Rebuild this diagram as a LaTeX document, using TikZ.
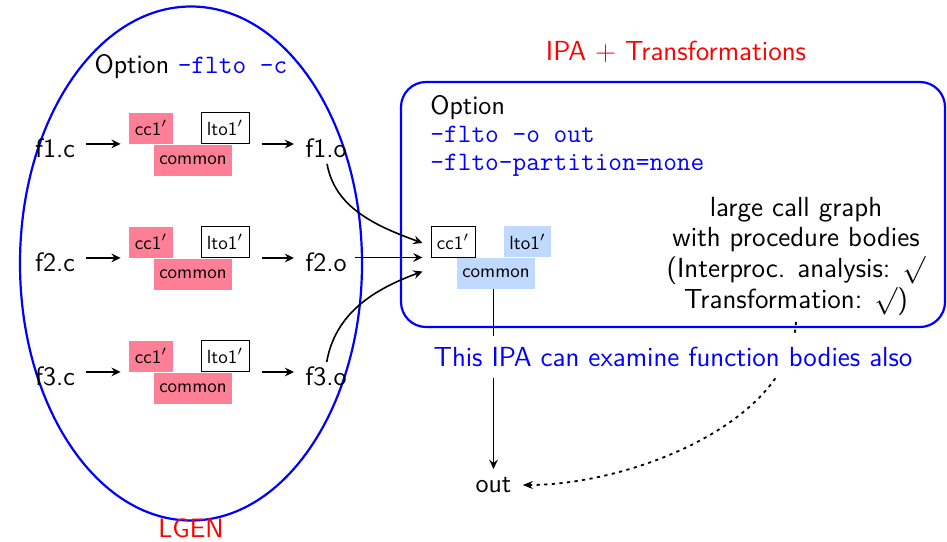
\RequirePackage{fix-cm}
\documentclass[tikz,border=0pt]{standalone}
\usetikzlibrary{arrows.meta,shapes.geometric,calc}
\definecolor{tagpink}{RGB}{255,128,150}
\definecolor{tagblue}{RGB}{191,217,255}
\begin{document}
\begin{tikzpicture}[x=0.5pt,y=-0.5pt,
  every node/.style={font=\fontsize{13.3}{15.5}\selectfont\sffamily},
  big/.style={font=\fontsize{13.8}{15.3}\selectfont\sffamily},
  lbl/.style={inner sep=0pt},
  tag/.style={minimum height=15.5pt, inner sep=0pt,
    font=\fontsize{9.5}{11}\selectfont\sffamily},
  pinktag/.style={tag, fill=tagpink},
  bluetag/.style={tag, fill=tagblue},
  boxtag/.style={tag, draw=black, line width=0.5pt, fill=white},
  arr/.style={-{Stealth[length=4.6pt,width=4.4pt,inset=1.6pt]}, line width=0.8pt},
  dotarr/.style={-{Stealth[length=5pt,width=4pt]}, line width=0.9pt,
    dash pattern=on 1.6pt off 2.2pt}
]
\useasboundingbox (0,0) rectangle (947,541);

% link-time generation area
\node[ellipse, draw=blue, line width=1.1pt, minimum width=171pt,
  minimum height=257pt, inner sep=0pt] (lgenarea) at (191,263.5) {};
\node (lgenopt) at (191,67) {Option \textcolor{blue}{\ttfamily -flto -c}};
\node[red] (lgen) at (191,528) {LGEN};

% three compilation units
\foreach \i/\y in {1/148, 2/262, 3/376} {
  \node[lbl] (src\i) at (55,\y) {f\i.c};
  \node[pinktag, minimum width=22pt] (cc\i) at (151,\y-20) {cc1$'$};
  \node[boxtag, minimum width=24pt] (lto\i) at (225,\y-20) {lto1$'$};
  \node[pinktag, minimum width=39pt] (com\i) at (193,\y+12) {common};
  \node[lbl] (obj\i) at (326,\y) {f\i.o};
  \draw[arr] ($(src\i.east |- cc\i.south)+(11,0)$) -- ($(cc\i.south west)+(-8,0)$);
  \draw[arr] ($(lto\i.south east)+(12,0)$) -- ($(obj\i.west |- lto\i.south)+(-11,0)$);
}

% whole-program stage
\node[red, big] (ipatitle) at (676,52) {IPA $+$ Transformations};
\node[draw=blue, line width=1.1pt, rounded corners=12.5pt, minimum width=272pt,
  minimum height=122.5pt, inner sep=0pt] (ipabox) at (673,204.5) {};
\node[anchor=north west, align=left, inner sep=0pt,
  font=\fontsize{13.3}{14}\selectfont\sffamily] (ipaopt) at (430,95)
  {Option\\\textcolor{blue}{\ttfamily -flto -o out}\\\textcolor{blue}{\ttfamily -flto-partition=none}};
\node[boxtag, minimum width=22pt] (ipcc) at (453,241.5) {cc1$'$};
\node[bluetag, minimum width=23.5pt] (iplto) at (527.5,241.5) {lto1$'$};
\node[bluetag, minimum width=39pt] (ipcom) at (496,273.5) {common};
\node[align=center, big] (graphnote) at (796,256)
  {large call graph\\with procedure bodies\\(Interproc. analysis: $\surd$\\Transformation: $\surd$)};
\node[lbl] (out) at (493.5,485) {out};

% object files into the linker plugin
\draw[arr, shorten <=3pt] (obj1.south) to[out=-80,in=160] ($(ipcc.west)+(-8,1.5)$);
\draw[arr, shorten <=4pt] (obj2.east |- ipcc.south) -- ($(ipcc.south west)+(-8,0)$);
\draw[arr, shorten <=2pt] (obj3.north) to[out=80,in=200] ($(ipcc.south west)+(-8,14)$);
\draw[arr, shorten >=4pt] (ipcom.south -| out.north) -- (out.north);
\draw[dotarr, shorten >=5.5pt] (graphnote.south) .. controls +(-6,102) and +(117,0) .. (out.east);

\node[blue, big, fill=white, inner sep=5.5pt] (ipanote) at (673,357)
  {This IPA can examine function bodies also};
\end{tikzpicture}
\end{document}
